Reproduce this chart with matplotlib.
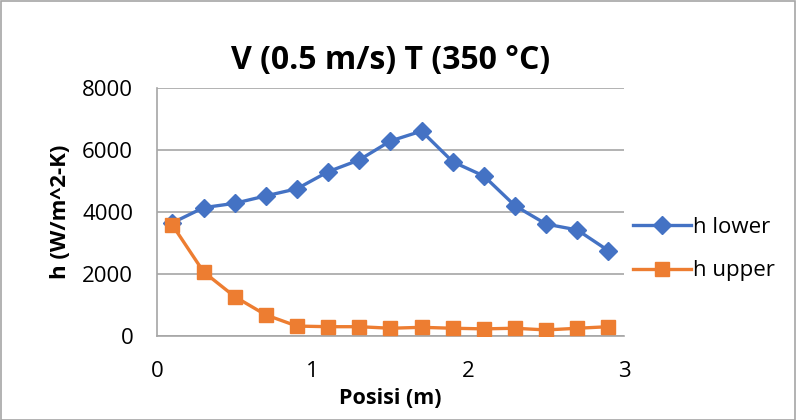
import matplotlib.pyplot as plt

posisi = [0.1, 0.3, 0.5, 0.7, 0.9, 1.1, 1.3, 1.5, 1.7, 1.9, 2.1, 2.3, 2.5, 2.7, 2.9]
h_lower = [3650, 4140, 4280, 4520, 4750, 5300, 5680, 6290, 6610, 5620, 5160, 4200, 3610, 3420, 2750]
h_upper = [3580, 2070, 1270, 680, 320, 300, 300, 250, 280, 250, 230, 250, 195, 250, 300]

blue = '#4472C4'
orange = '#ED7D31'

plt.rcParams['font.family'] = ['Open Sans', 'DejaVu Sans']

fig = plt.figure(figsize=(7.96, 4.2), dpi=100)
ax = fig.add_axes([0.197, 0.2, 0.587, 0.5905])

ax.plot(posisi, h_lower, color=blue, lw=2.4, marker='D', ms=9, label='h lower', zorder=3)
ax.plot(posisi, h_upper, color=orange, lw=2.4, marker='s', ms=10.5, label='h upper', zorder=4)

ax.set_xlim(0, 3)
ax.set_ylim(0, 8000)
ax.set_xticks([0, 1, 2, 3])
ax.set_yticks([0, 2000, 4000, 6000, 8000])
ax.tick_params(length=0, labelsize=16)
ax.tick_params(axis='y', pad=17)
ax.tick_params(axis='x', pad=18)
ax.grid(axis='y', color='#a6a6a6', lw=1.2)
ax.set_axisbelow(True)
for s in ['top', 'right']:
    ax.spines[s].set_visible(False)
for s in ['left', 'bottom']:
    ax.spines[s].set_color('#a6a6a6')
    ax.spines[s].set_linewidth(1.2)

ax.set_title('V (0.5 m/s) T (350 °C)', fontsize=23, fontweight='bold', pad=14)
ax.set_xlabel('Posisi (m)', fontsize=15.5, fontweight='bold', labelpad=4)
ax.set_ylabel('h (W/m^2-K)', fontsize=16, fontweight='bold', labelpad=8)

ax.legend(loc='center left', bbox_to_anchor=(1.0, 0.35), frameon=False,
          borderaxespad=0, fontsize=16, handlelength=2.6, labelspacing=1.0,
          handletextpad=0.1)

fig.patches.append(plt.Rectangle((0.001, 0.001), 0.998, 0.997, transform=fig.transFigure,
                                 fill=False, edgecolor='#a6a6a6', lw=1.2))

fig.savefig('out.png', dpi=100)
